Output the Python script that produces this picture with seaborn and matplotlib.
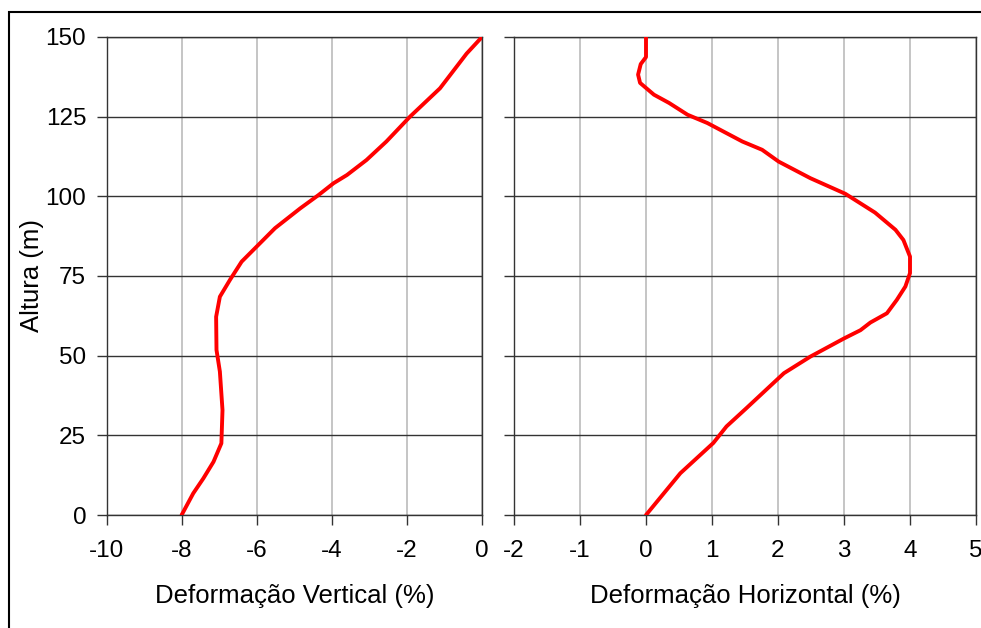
import numpy as np
import pandas as pd
import seaborn as sns
import matplotlib.pyplot as plt
from matplotlib.patches import Rectangle

# altura (m) e deformacoes
altura_v = [0, 6.8, 11.5, 16.7, 22.5, 32.9, 45, 51.8, 62.2, 68.5, 73.8, 79.5,
            90, 96.2, 100.4, 104.1, 106.7, 111.4, 117.2, 125, 133.9, 144.8, 150]
def_vertical = [-8.01, -7.7, -7.43, -7.16, -6.95, -6.92, -6.99, -7.08, -7.09, -6.99, -6.72, -6.41,
                -5.52, -4.85, -4.36, -3.96, -3.6, -3.08, -2.55, -1.92, -1.12, -0.41, 0.0]

altura_h = [0, 13.1, 22.6, 27.8, 33.5, 44.5, 49.7, 55.4, 58, 60.4, 63.3, 67.5, 71.7, 75.9,
            81.1, 86.3, 89.5, 94.9, 100.8, 105.7, 110.9, 114.6, 117.2, 123, 125.6, 129.3,
            131.9, 135.6, 138.2, 141.5, 143.7, 150]
def_horizontal = [0.0, 0.52, 1.02, 1.22, 1.52, 2.09, 2.49, 3.0, 3.25, 3.4, 3.65, 3.8, 3.93, 4.0,
                  4.0, 3.9, 3.78, 3.47, 3.02, 2.49, 2.01, 1.76, 1.46, 0.93, 0.63, 0.35,
                  0.12, -0.09, -0.12, -0.08, 0.0, 0.0]

xticks_v = [-10, -8, -6, -4, -2, 0]
xticks_h = [-2, -1, 0, 1, 2, 3, 4, 5]
yticks = [0, 25, 50, 75, 100, 125, 150]

df_v = pd.DataFrame({"def": def_vertical, "alt": altura_v})
df_h = pd.DataFrame({"def": def_horizontal, "alt": altura_h})

sns.set_style("white")
plt.rcParams['font.family'] = ['Liberation Sans', 'DejaVu Sans']
plt.rcParams['axes.unicode_minus'] = False
plt.rcParams['text.color'] = 'black'
plt.rcParams['axes.labelcolor'] = 'black'
plt.rcParams['xtick.color'] = 'black'
plt.rcParams['ytick.color'] = 'black'

fig = plt.figure(figsize=(9.81, 6.28), dpi=100)
ax1 = fig.add_axes([107/981, 1-515/628, 375/981, 478/628])
ax2 = fig.add_axes([514/981, 1-515/628, 462/981, 478/628])

for ax, df, xt, xlabel in [(ax1, df_v, xticks_v, "Deformação Vertical (%)"),
                           (ax2, df_h, xticks_h, "Deformação Horizontal (%)")]:
    sns.lineplot(data=df, x="def", y="alt", sort=False, estimator=None,
                 color="#ff0000", linewidth=2.8, ax=ax, zorder=5)
    ax.set_xlim(xt[0], xt[-1])
    ax.set_ylim(0, 150)
    ax.set_xticks(xt)
    ax.set_yticks(yticks)
    ax.set_axisbelow(True)
    ax.xaxis.grid(True, color="#c0c0c0", linewidth=1.3)
    ax.yaxis.grid(True, color="#333333", linewidth=1.0)
    for s in ax.spines.values():
        s.set_color("#333333")
        s.set_linewidth(1.0)
    ax.tick_params(axis="both", direction="out", length=7, width=1, color="#333333",
                   labelsize=17.5, bottom=True, left=True)
    ax.tick_params(axis="x", pad=11)
    ax.tick_params(axis="y", pad=8)
    ax.set_xlabel(xlabel, fontsize=18.5, labelpad=16)
    ax.set_ylabel("")

ax1.set_ylabel("Altura (m)", fontsize=18.5, labelpad=1)
ax2.tick_params(axis="y", labelleft=False)

# moldura da figura
fig.patches.append(Rectangle((9/981, -0.1), 1.2, 1 - 12/628 + 0.1, transform=fig.transFigure,
                             fill=False, edgecolor="black", linewidth=1.5))

fig.savefig("out.png", dpi=100)
